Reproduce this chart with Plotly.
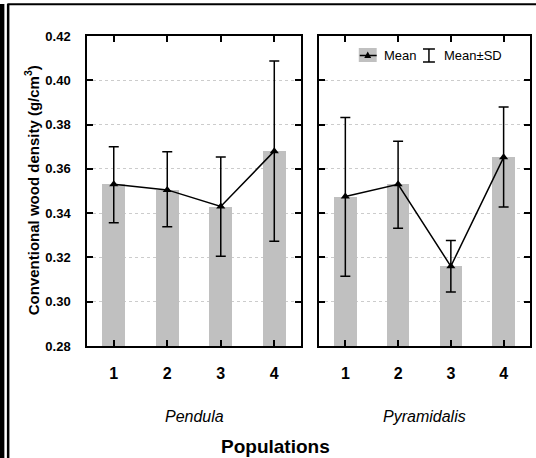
import plotly.graph_objects as go

# ---- data ----
populations = [1, 2, 3, 4]
pendula_mean = [0.353, 0.3505, 0.343, 0.368]
pendula_sd_hi = [0.370, 0.3677, 0.3654, 0.4087]
pendula_sd_lo = [0.3357, 0.3338, 0.3205, 0.3273]
pyram_mean = [0.3475, 0.353, 0.316, 0.3652]
pyram_sd_hi = [0.3832, 0.3725, 0.3276, 0.3879]
pyram_sd_lo = [0.3115, 0.3332, 0.3044, 0.3428]
y_ticks = [0.28, 0.30, 0.32, 0.34, 0.36, 0.38, 0.40, 0.42]
groups = ["Pendula", "Pyramidalis"]

W, H = 536, 458
L, R, T, B = 87, 4, 36, 112
PW = W - L - R
PH = H - T - B


def px(x):
    return (x - L) / PW


def py(y):
    return (H - B - y) / PH


FONT = "Liberation Sans, Arial, sans-serif"
BAR_COLOR = "#c0c0c0"

fig = go.Figure()

datasets = [
    (pendula_mean, pendula_sd_hi, pendula_sd_lo, "x", "y"),
    (pyram_mean, pyram_sd_hi, pyram_sd_lo, "x2", "y2"),
]
for mean, hi, lo, xa, ya in datasets:
    fig.add_trace(go.Bar(x=populations, y=mean, marker_color=BAR_COLOR,
                         marker_line_width=0, width=0.43, xaxis=xa, yaxis=ya,
                         showlegend=False, base=0))
    fig.add_trace(go.Scatter(
        x=populations, y=mean, mode="lines+markers", xaxis=xa, yaxis=ya,
        line=dict(color="black", width=1.5),
        marker=dict(symbol="triangle-up", size=8, color="black"),
        error_y=dict(type="data", symmetric=False,
                     array=[h - m for h, m in zip(hi, mean)],
                     arrayminus=[m - l for m, l in zip(mean, lo)],
                     color="black", thickness=1.5, width=5),
        showlegend=False))

d1 = [0, px(302)]
d2 = [px(320), 1]

xcommon = dict(range=[0.5, 4.5], tickvals=populations, ticks="inside", ticklen=6,
               tickwidth=1.5, tickcolor="black", showline=True, linecolor="black",
               linewidth=1.5, mirror="ticks", showgrid=False, zeroline=False,
               tickfont=dict(family=FONT, size=16, color="black", weight="bold"),
               ticklabelstandoff=12)
ycommon = dict(range=[0.28, 0.42], tickvals=y_ticks, ticks="inside", ticklen=6,
               tickwidth=1.5, tickcolor="black", showline=True, linecolor="black",
               linewidth=1.5, mirror="ticks", showgrid=True, gridcolor="#cccccc",
               griddash="dot", gridwidth=1, zeroline=False)

fig.update_layout(
    width=W, height=H,
    margin=dict(l=L, r=R, t=T, b=B),
    paper_bgcolor="white", plot_bgcolor="white",
    bargap=0,
    xaxis=dict(domain=d1, anchor="y", **xcommon),
    xaxis2=dict(domain=d2, anchor="y2", **xcommon),
    yaxis=dict(anchor="x", tickformat=".2f",
               tickfont=dict(family=FONT, size=13, color="black", weight="bold"),
               ticklabelstandoff=12, **ycommon),
    yaxis2=dict(anchor="x2", showticklabels=False, **ycommon),
    showlegend=False,
)

annotations = [
    dict(text="<i>Pendula</i>", xref="x domain", yref="paper", x=0.5, y=py(416),
         showarrow=False, font=dict(family=FONT, size=16, color="black"),
         xanchor="center", yanchor="middle"),
    dict(text="<i>Pyramidalis</i>", xref="x2 domain", yref="paper", x=0.5, y=py(416),
         showarrow=False, font=dict(family=FONT, size=16, color="black"),
         xanchor="center", yanchor="middle"),
    dict(text="<b>Populations</b>", xref="paper", yref="paper", x=px(276), y=py(447),
         showarrow=False, font=dict(family=FONT, size=19, color="black"),
         xanchor="center", yanchor="middle"),
    dict(text="<b>Conventional wood density (g/cm<sup>3</sup>)</b>", xref="paper",
         yref="paper", x=px(31), y=py(190), textangle=-90, showarrow=False,
         font=dict(family=FONT, size=15, color="black"),
         xanchor="center", yanchor="middle"),
    dict(text="Mean", xref="paper", yref="paper", x=px(383), y=py(55),
         showarrow=False, font=dict(family=FONT, size=13, color="black"),
         xanchor="left", yanchor="middle"),
    dict(text="Mean±SD", xref="paper", yref="paper", x=px(444), y=py(55),
         showarrow=False, font=dict(family=FONT, size=13, color="black"),
         xanchor="left", yanchor="middle"),
]
fig.update_layout(annotations=annotations)

shapes = [
    # legend: gray box with line and triangle
    dict(type="rect", xref="paper", yref="paper", x0=px(360), x1=px(378),
         y0=py(62), y1=py(48), fillcolor=BAR_COLOR, line_width=0),
    dict(type="line", xref="paper", yref="paper", x0=px(361), x1=px(378),
         y0=py(55.5), y1=py(55.5), line=dict(color="black", width=1.5)),
    dict(type="path", xref="paper", yref="paper",
         path=f"M {px(365.5)} {py(58)} L {px(372.5)} {py(58)} L {px(369)} {py(51.5)} Z",
         fillcolor="black", line_width=0),
    # legend: I-beam
    dict(type="line", xref="paper", yref="paper", x0=px(430.5), x1=px(430.5),
         y0=py(49), y1=py(62), line=dict(color="black", width=1.5)),
    dict(type="line", xref="paper", yref="paper", x0=px(424.5), x1=px(436.5),
         y0=py(49), y1=py(49), line=dict(color="black", width=1.5)),
    dict(type="line", xref="paper", yref="paper", x0=px(424.5), x1=px(436.5),
         y0=py(62), y1=py(62), line=dict(color="black", width=1.5)),
    # outer frame
    dict(type="line", xref="paper", yref="paper", x0=px(7), x1=px(540),
         y0=py(4.3), y1=py(4.3), line=dict(color="black", width=2)),
    dict(type="line", xref="paper", yref="paper", x0=px(7.8), x1=px(7.8),
         y0=py(4), y1=py(462), line=dict(color="black", width=2.5)),
    dict(type="rect", xref="paper", yref="paper", x0=px(-2), x1=px(4),
         y0=py(462), y1=py(4), fillcolor="black", line_width=0),
]
fig.update_layout(shapes=shapes)

fig.write_html(
    "out.html",
    config={"displayModeBar": False},
    post_script="document.body.style.margin='0';document.body.style.padding='0';"
                "document.body.style.overflow='hidden';",
)
